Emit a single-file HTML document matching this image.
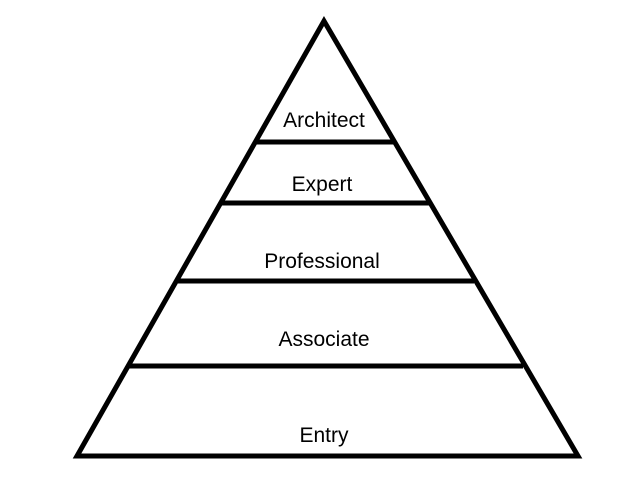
<!DOCTYPE html>
<html><head><style>html,body{margin:0;padding:0;background:#fff;}svg{display:block}</style></head>
<body>
<svg width="640" height="480" viewBox="0 0 640 480" xmlns="http://www.w3.org/2000/svg">
<g stroke="#000" stroke-width="5" fill="none" stroke-linejoin="miter">
<polygon points="324,21 77,456 578,456"/>
<line x1="256" y1="142" x2="394" y2="142"/>
<line x1="222" y1="203" x2="429" y2="203"/>
<line x1="178" y1="281" x2="474" y2="281"/>
<line x1="129" y1="366" x2="523" y2="366"/>
</g>
<g font-family="Liberation Sans, sans-serif" font-size="21" text-anchor="middle" fill="#000">
<text x="324" y="127">Architect</text>
<text x="322" y="191">Expert</text>
<text x="322" y="268">Professional</text>
<text x="324" y="346">Associate</text>
<text x="324" y="442">Entry</text>
</g>
</svg>
</body></html>
